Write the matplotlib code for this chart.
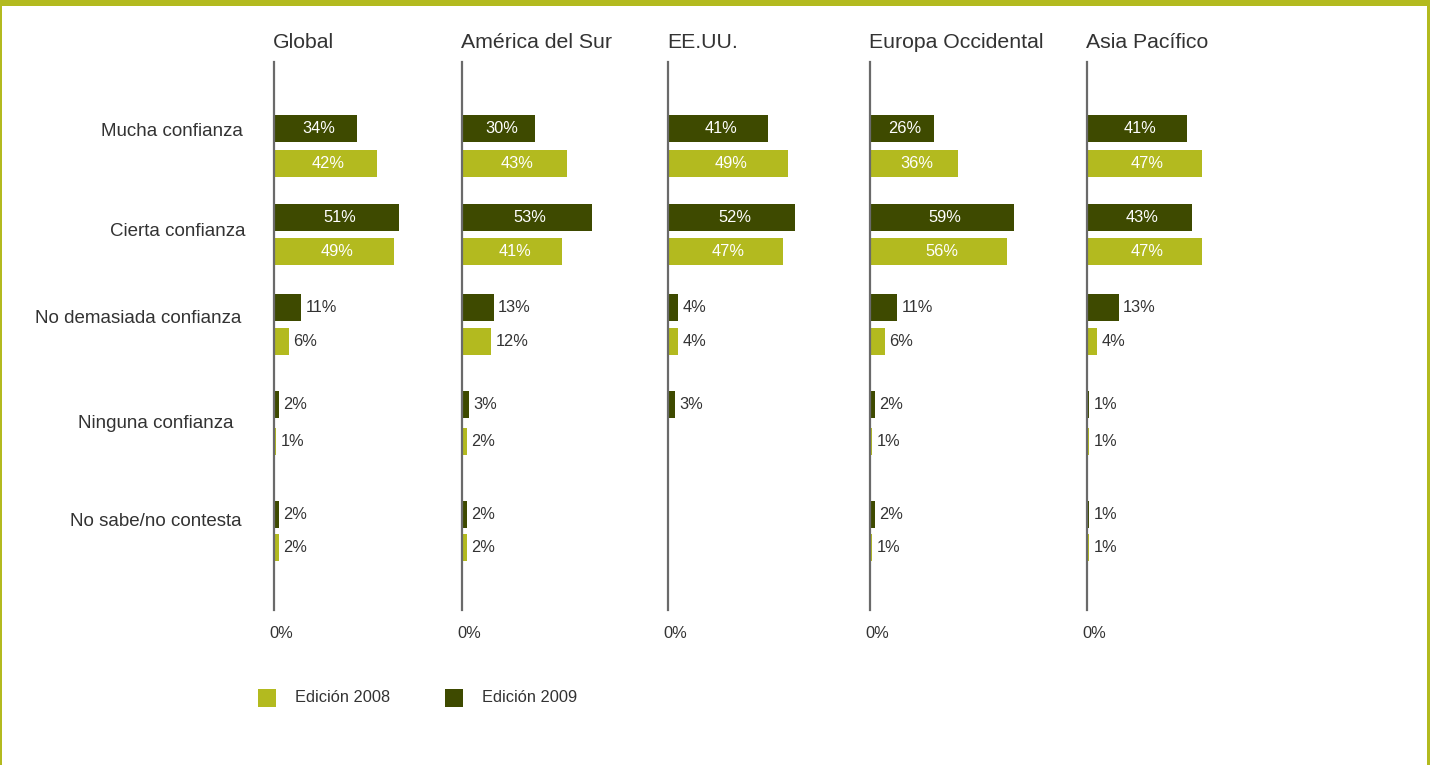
import matplotlib
matplotlib.use('Agg')
import matplotlib.pyplot as plt
from matplotlib.patches import Rectangle

plt.rcParams['font.family'] = ['Liberation Sans', 'DejaVu Sans']

# data
categories = ['Mucha confianza', 'Cierta confianza', 'No demasiada confianza',
              'Ninguna confianza', 'No sabe/no contesta']
regions = ['Global', 'América del Sur', 'EE.UU.', 'Europa Occidental', 'Asia Pacífico']
ed2009 = {
    'Global': [34, 51, 11, 2, 2],
    'América del Sur': [30, 53, 13, 3, 2],
    'EE.UU.': [41, 52, 4, 3, 0.3],
    'Europa Occidental': [26, 59, 11, 2, 2],
    'Asia Pacífico': [41, 43, 13, 1, 1],
}
ed2008 = {
    'Global': [42, 49, 6, 1, 2],
    'América del Sur': [43, 41, 12, 2, 2],
    'EE.UU.': [49, 47, 4, 0.5, 0.3],
    'Europa Occidental': [36, 56, 6, 1, 1],
    'Asia Pacífico': [47, 47, 4, 1, 1],
}

# colours
c2008 = '#b3ba1f'
c2009 = '#3e4a00'
txt = '#333333'

# layout, in reference pixels
W, H = 1430, 765
panel_x = [274, 462, 668, 870, 1087]
top, bottom = 62, 610
px_per_pct = 2.445
panel_w = 200
y2009 = [128.5, 217.5, 307.5, 404.5, 514.5]
y2008 = [163.5, 251.5, 341.5, 441.5, 547.5]
bar_h = 27.5
cat_y = [132, 232, 318, 423, 522]
cat_xend = [243, 245, 241, 233, 242]

fig = plt.figure(figsize=(W / 100, H / 100), dpi=100)


def fx(x):
    return x / W


def fy(y):
    return 1 - y / H


def label_bars(ax, ys, vals):
    for y, v in zip(ys, vals):
        if v < 1:
            continue
        if v >= 20:
            ax.text(v / 2 + 1.2, y, f'{v:g}%', color='white', fontsize=11.8,
                    ha='center', va='center')
        else:
            ax.text(v + 1.8, y, f'{v:g}%', color=txt, fontsize=11.8,
                    ha='left', va='center')


for reg, x0 in zip(regions, panel_x):
    ax = fig.add_axes([fx(x0), fy(bottom), panel_w / W, (bottom - top) / H])
    ax.set_xlim(0, panel_w / px_per_pct)
    ax.set_ylim(bottom, top)
    ax.barh(y2009, ed2009[reg], height=bar_h, color=c2009)
    ax.barh(y2008, ed2008[reg], height=bar_h, color=c2008)
    label_bars(ax, y2009, ed2009[reg])
    label_bars(ax, y2008, ed2008[reg])
    for s in ['top', 'right', 'bottom']:
        ax.spines[s].set_visible(False)
    ax.spines['left'].set_color('#6a6a6a')
    ax.spines['left'].set_linewidth(1.6)
    ax.set_xticks([])
    ax.set_yticks([])
    ax.patch.set_alpha(0)
    fig.text(fx(x0 - 1), fy(42), reg, fontsize=15.3, color=txt, ha='left', va='center')
    fig.text(fx(x0 + 7), fy(634), '0%', fontsize=11.8, color=txt, ha='center', va='center')

for cat, y, xe in zip(categories, cat_y, cat_xend):
    fig.text(fx(xe), fy(y), cat, fontsize=13.5, color=txt, ha='right', va='center')

# legend
for x, col, lab in [(258, c2008, 'Edición 2008'), (445, c2009, 'Edición 2009')]:
    fig.patches.append(Rectangle((fx(x), fy(707)), 18 / W, 18 / H,
                                 transform=fig.transFigure, color=col, lw=0))
    fig.text(fx(x + 37), fy(698), lab, fontsize=11.8, color=txt, ha='left', va='center')

# frame
for (x, y, w, h) in [(0, 0, W, 6), (0, 0, 2, H), (W - 3, 0, 3, H)]:
    fig.patches.append(Rectangle((fx(x), fy(y + h)), w / W, h / H,
                                 transform=fig.transFigure, color=c2008, lw=0))

fig.savefig('out.png', dpi=100)
